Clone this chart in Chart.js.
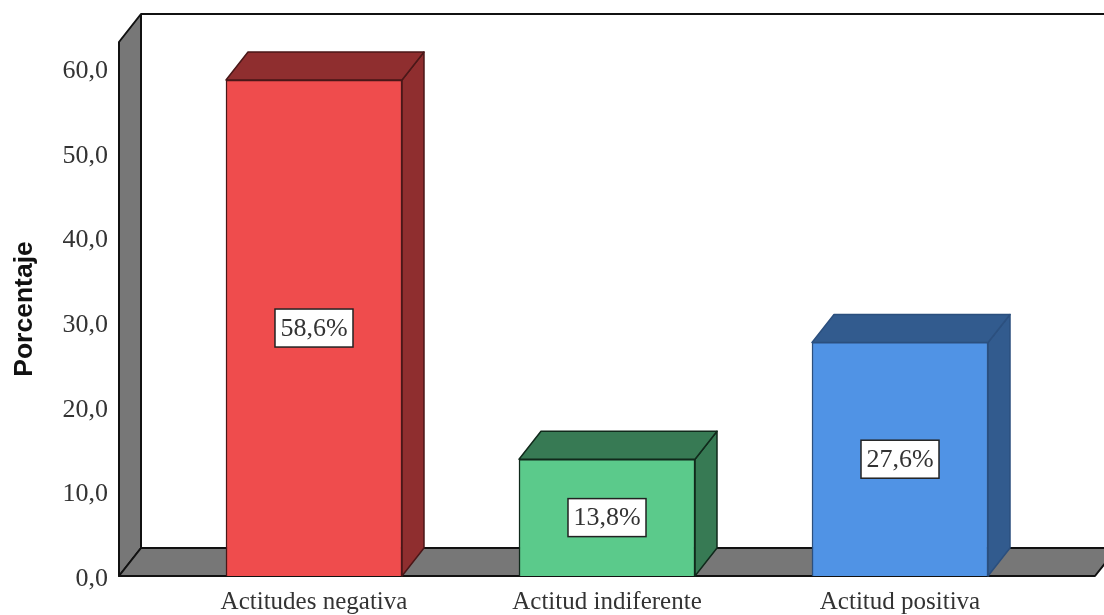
<!DOCTYPE html>
<html>
<head>
<meta charset="utf-8">
<title>Porcentaje</title>
<script src="https://cdn.jsdelivr.net/npm/chart.js@4"></script>
<style>
  html, body { margin: 0; padding: 0; background: #fff; }
  canvas { display: block; }
</style>
</head>
<body>
<canvas id="chart" width="1104" height="615"></canvas>
<script>
const categories = ['Actitudes negativa', 'Actitud indiferente', 'Actitud positiva'];
const percentages = [58.6, 13.8, 27.6];
const yTicks = [0, 10, 20, 30, 40, 50, 60];

const frontColors = ['#ef4c4d', '#5bca8b', '#5093e5'];
const shadeColors = ['#8f2e2f', '#377a54', '#325b8e'];
const edgeColors = ['#4a1718', '#10291b', '#2b4f7e'];

const DEPTH_X = 22;
const DEPTH_Y = 28;
const WALL_GRAY = '#777777';
const SERIF = '"Liberation Serif", serif';

function fillPoly(ctx, pts, fill, stroke, lineWidth) {
  ctx.beginPath();
  pts.forEach((p, i) => i ? ctx.lineTo(p[0], p[1]) : ctx.moveTo(p[0], p[1]));
  ctx.closePath();
  ctx.fillStyle = fill;
  ctx.fill();
  ctx.strokeStyle = stroke;
  ctx.lineWidth = lineWidth;
  ctx.stroke();
}

// Left wall, floor and back edges of the 3D box
const boxPlugin = {
  id: 'box',
  beforeDatasetsDraw(chart) {
    const { ctx, chartArea: a } = chart;
    ctx.save();
    ctx.lineJoin = 'round';
    fillPoly(ctx, [[a.left, a.top], [a.left + DEPTH_X, a.top - DEPTH_Y], [a.left + DEPTH_X, a.bottom - DEPTH_Y], [a.left, a.bottom]], WALL_GRAY, '#111', 2);
    fillPoly(ctx, [[a.left, a.bottom], [a.left + DEPTH_X, a.bottom - DEPTH_Y], [a.right + DEPTH_X, a.bottom - DEPTH_Y], [a.right, a.bottom]], WALL_GRAY, '#111', 2);
    ctx.beginPath();
    ctx.moveTo(a.left + DEPTH_X, a.top - DEPTH_Y);
    ctx.lineTo(a.right + DEPTH_X, a.top - DEPTH_Y);
    ctx.strokeStyle = '#111';
    ctx.lineWidth = 2;
    ctx.stroke();

    // Side and top faces of each bar
    chart.getDatasetMeta(0).data.forEach((bar, i) => {
      const left = bar.x - bar.width / 2;
      const right = bar.x + bar.width / 2;
      fillPoly(ctx, [[right, bar.y], [right + DEPTH_X, bar.y - DEPTH_Y], [right + DEPTH_X, bar.base - DEPTH_Y], [right, bar.base]], shadeColors[i], edgeColors[i], 1.5);
      fillPoly(ctx, [[left, bar.y], [left + DEPTH_X, bar.y - DEPTH_Y], [right + DEPTH_X, bar.y - DEPTH_Y], [right, bar.y]], shadeColors[i], edgeColors[i], 1.5);
    });
    ctx.restore();
  }
};

// Boxed value label in the middle of each bar
const valueLabelPlugin = {
  id: 'valueLabels',
  afterDatasetsDraw(chart) {
    const { ctx } = chart;
    ctx.save();
    ctx.font = '26px ' + SERIF;
    ctx.textAlign = 'center';
    ctx.textBaseline = 'middle';
    chart.getDatasetMeta(0).data.forEach((bar, i) => {
      const text = percentages[i].toFixed(1).replace('.', ',') + '%';
      const w = 78;
      const h = 38;
      const cy = (bar.y + bar.base) / 2;
      ctx.fillStyle = '#fff';
      ctx.fillRect(bar.x - w / 2, cy - h / 2, w, h);
      ctx.strokeStyle = '#222';
      ctx.lineWidth = 1.5;
      ctx.strokeRect(bar.x - w / 2, cy - h / 2, w, h);
      ctx.fillStyle = '#333';
      ctx.fillText(text, bar.x, cy + 1);
    });
    ctx.restore();
  }
};

new Chart(document.getElementById('chart'), {
  type: 'bar',
  data: {
    datasets: [{
      data: percentages.map((v, i) => ({ x: i, y: v })),
      backgroundColor: frontColors,
      borderColor: edgeColors,
      borderWidth: 1.5,
      barThickness: 176
    }]
  },
  plugins: [boxPlugin, valueLabelPlugin],
  options: {
    responsive: false,
    animation: false,
    layout: { padding: { top: 42, right: 9, left: 0, bottom: 0 } },
    plugins: { legend: { display: false }, tooltip: { enabled: false } },
    scales: {
      x: {
        type: 'linear',
        offset: false,
        min: -0.6655,
        max: 2.6655,
        grid: { display: false },
        border: { display: false },
        afterBuildTicks(scale) {
          scale.ticks = categories.map((c, i) => ({ value: i }));
        },
        afterFit(scale) { scale.height = 39; },
        ticks: {
          autoSkip: false,
          maxRotation: 0,
          padding: 3,
          color: '#333',
          font: { family: SERIF, size: 25 },
          callback: v => categories[v]
        }
      },
      y: {
        min: 0,
        max: 63.1,
        grid: { display: false },
        border: { display: false },
        afterBuildTicks(scale) {
          scale.ticks = yTicks.map(v => ({ value: v }));
        },
        afterFit(scale) { scale.width = 119; },
        title: {
          display: true,
          text: 'Porcentaje',
          color: '#111',
          padding: { top: 9, bottom: 0 },
          font: { family: '"Liberation Sans", sans-serif', size: 26.5, weight: 'bold' }
        },
        ticks: {
          padding: 3,
          labelOffset: 3,
          color: '#333',
          font: { family: SERIF, size: 26 },
          callback: v => v.toFixed(1).replace('.', ',')
        }
      }
    }
  }
});
</script>
</body>
</html>
